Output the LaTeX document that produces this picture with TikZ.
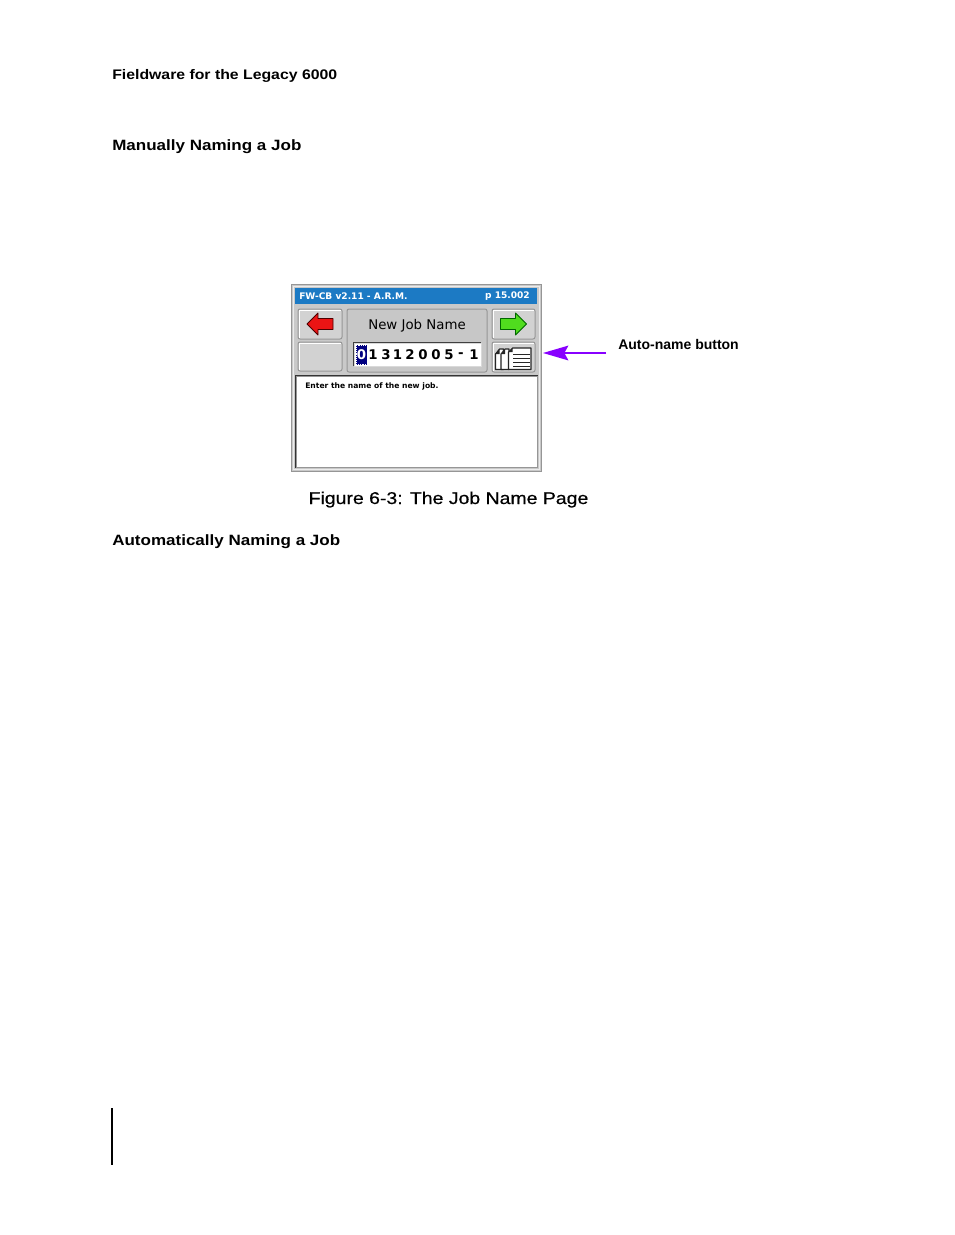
\documentclass[tikz,border=0pt]{standalone}
\usepackage{fontspec}
\setmainfont{Liberation Sans}
\newfontfamily\docfont[FakeStretch=1.14]{Liberation Sans}
\newfontfamily\capfont[FakeStretch=1.14,FakeBold=0.5]{Liberation Sans}
\newfontfamily\scrfont{DejaVu Sans}
\usetikzlibrary{arrows.meta}
\definecolor{titleblue}{RGB}{28,122,196}
\definecolor{scrgray}{RGB}{201,201,201}
\definecolor{btngray}{RGB}{210,210,210}
\definecolor{paneledge}{RGB}{150,150,150}
\definecolor{purplearrow}{RGB}{136,0,255}
\definecolor{selblue}{RGB}{0,0,128}
\definecolor{redfill}{RGB}{235,20,20}
\definecolor{greenfill}{RGB}{80,220,30}
\begin{document}
\begin{tikzpicture}[x=0.75pt,y=-0.75pt,
  headtext/.style={anchor=base west, inner sep=0pt, font=\docfont\bfseries\fontsize{10.4pt}{12pt}\selectfont},
  sectext/.style={anchor=base west, inner sep=0pt, font=\docfont\bfseries\fontsize{11.2pt}{13pt}\selectfont},
  captext/.style={anchor=base, inner sep=0pt, font=\capfont\fontsize{12.8pt}{14pt}\selectfont},
  labtext/.style={anchor=base west, inner sep=0pt, font=\bfseries\fontsize{10.5pt}{12pt}\selectfont},
  btn/.style={draw=paneledge, fill=btngray, rounded corners=1.5pt, line width=0.75pt, inner sep=0pt},
  titlefont/.style={inner sep=0pt, text=white, font=\scrfont\bfseries\fontsize{6.8pt}{8pt}\selectfont},
  digit/.style={inner sep=0pt, font=\scrfont\bfseries\fontsize{10pt}{12pt}\selectfont},
  purplearr/.style={draw=purplearrow, line width=1.5pt, -{Stealth[length=19pt,width=11pt,inset=3pt]}},
  iconline/.style={line width=0.8pt, draw=black!85}
]
\useasboundingbox[fill=white] (0,0) rectangle (954,1235);

% page texts
\node[headtext] (hdr) at (112,79) {Fieldware for the Legacy 6000};
\node[sectext] (sec1) at (112,150) {Manually Naming a Job};
\node[sectext] (sec2) at (112,545) {Automatically Naming a Job};
\node[captext] (cap) at (448.5,504) {Figure 6-3: The Job Name Page};

% screen frame
\node[draw=paneledge, fill=scrgray, line width=0.75pt, minimum width=187.5pt, minimum height=140.25pt, inner sep=0pt] (screen) at (416,377.5) {};
\node[draw=white!85!gray, line width=0.75pt, minimum width=184.5pt, minimum height=137.25pt, inner sep=0pt] (screeninner) at (416,377.5) {};
% title bar
\node[fill=titleblue, minimum width=181.5pt, minimum height=12pt, inner sep=0pt] (title) at (416,296) {};
\node[titlefont, anchor=west] (titleL) at (299,296.5) {FW-CB v2.11 - A.R.M.};
\node[titlefont, anchor=east] (titleR) at (530,296.5) {p 15.002};

% buttons
\node[btn, minimum width=33pt, minimum height=22.5pt] (back) at (320,324) {};
\node[btn, minimum width=33pt, minimum height=21.75pt] (blank) at (320,356.5) {};
\node[btn, fill=btngray!95!black, minimum width=105pt, minimum height=47.25pt] (panel) at (417,340.5) {};
\node[btn, minimum width=32.25pt, minimum height=22.5pt] (fwd) at (513.5,324) {};
\node[btn, minimum width=32.25pt, minimum height=22.5pt] (autobtn) at (513.5,357) {};

% highlights on buttons
\foreach \b in {back,blank,fwd,autobtn}{
  \draw[white, line width=0.9pt] ([shift={(2,-2)}]\b.south west) -- ([shift={(2,2)}]\b.north west) -- ([shift={(-2,2)}]\b.north east);
}

% red arrow (back)
\begin{scope}[shift={(back.center)}]
  \draw[fill=redfill, draw=black!70!red, line width=0.6pt, line join=round]
    (-13,0) -- (-2,-11) -- (-2,-5.5) -- (13,-5.5) -- (13,5.5) -- (-2,5.5) -- (-2,11) -- cycle;
\end{scope}
% green arrow (forward)
\begin{scope}[shift={(fwd.center)}]
  \draw[fill=greenfill, draw=black!60!green, line width=0.6pt, line join=round]
    (13,0) -- (2,-11) -- (2,-5.5) -- (-13,-5.5) -- (-13,5.5) -- (2,5.5) -- (2,11) -- cycle;
\end{scope}

% auto-name icon
\begin{scope}[shift={(autobtn.center)}]
  % back small sheet
  \draw[iconline, fill=white, line join=round] (-18,-3) -- (-14,-8) -- (-10,-8) -- (-10,12.5) -- (-18,12.5) -- cycle;
  \fill[black!85] (-14,-8) -- (-14,-3) -- (-18,-3) -- cycle;
  % middle small sheet
  \draw[iconline, fill=white, line join=round] (-12.5,-3) -- (-8.5,-8) -- (-4.5,-8) -- (-4.5,12.5) -- (-12.5,12.5) -- cycle;
  \fill[black!85] (-8.5,-8) -- (-8.5,-3) -- (-12.5,-3) -- cycle;
  % big sheet
  \draw[iconline, fill=white, line join=round] (-5,-5) -- (-1,-9) -- (17.5,-9) -- (17.5,12.5) -- (-5,12.5) -- cycle;
  \fill[black!85] (-1,-9) -- (-1,-5) -- (-5,-5) -- cycle;
  \foreach \yy in {-2.3,1.7,5.8,9.3}{
    \draw[iconline] (-0.5,\yy) -- (16,\yy);
  }
\end{scope}

% panel contents
\node[inner sep=0pt, font=\scrfont\fontsize{10pt}{12pt}\selectfont] (jobname) at (417,325.5) {New Job Name};
\node[fill=white, draw=white!70!gray, line width=0.6pt, minimum width=95.25pt, minimum height=17.25pt, inner sep=0pt] (input) at (417.5,354.5) {};
\draw[black!75, line width=1pt] (input.south west) -- (input.north west) -- (input.north east);
\node[fill=selblue, draw=white, densely dotted, line width=0.4pt, minimum width=8.25pt, minimum height=14.5pt, inner sep=0pt] (sel) at (361.5,355) {};
\node[digit, text=white] (d0) at (361.5,355) {0};
\foreach \ch/\xx [count=\i] in {1/373,3/386,1/397.5,2/410,0/423,0/436,5/449,-/461,1/474}{
  \node[digit] (d\i) at (\xx,355) {\ch};
}

% message area
\node[fill=white, draw=paneledge, line width=0.75pt, minimum width=180.75pt, minimum height=68.25pt, inner sep=0pt] (msg) at (416.5,421.5) {};
\draw[black!80, line width=1.1pt] (msg.south west) -- (msg.north west) -- (msg.north east);
\node[anchor=base west, inner sep=0pt, font=\scrfont\bfseries\fontsize{5.7pt}{7pt}\selectfont] (msgtext) at (305,388) {Enter the name of the new job.};

% annotation
\node[labtext] (autolab) at (618,349) {Auto-name button};
\coordinate (arrtail) at (606,353);
\draw[purplearr, shorten >=5.6pt] (arrtail) -- (autobtn.east |- arrtail);

% margin rule
\coordinate (ruletop) at (112,1108);
\coordinate (rulebot) at (112,1165);
\draw[black, line width=0.9pt] (ruletop) -- (rulebot);
\end{tikzpicture}
\end{document}
